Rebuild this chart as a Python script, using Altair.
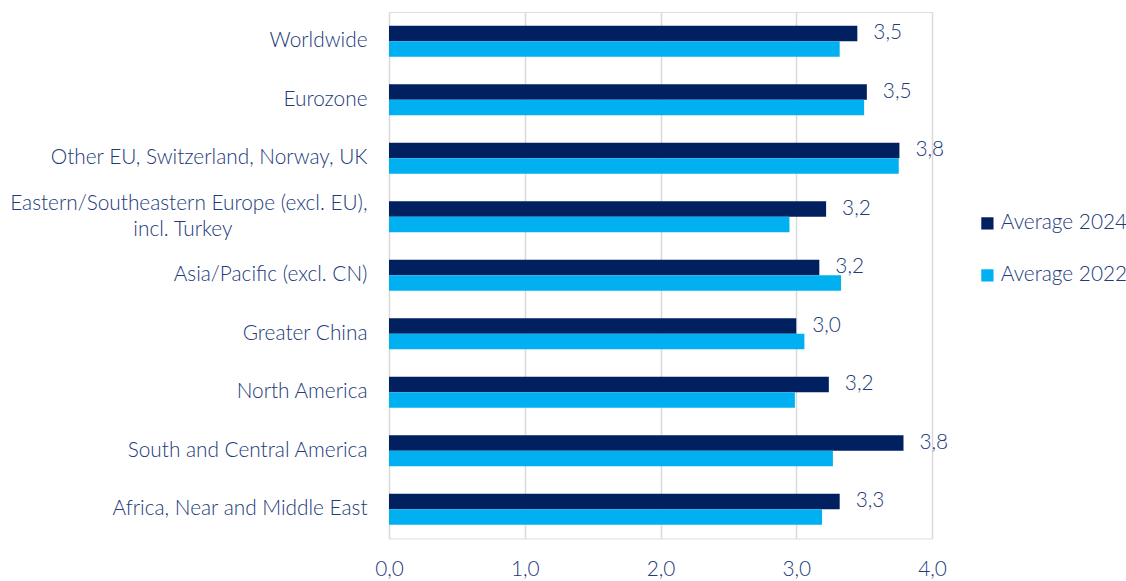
import altair as alt
import pandas as pd

categories = [
    "Worldwide",
    "Eurozone",
    "Other EU, Switzerland, Norway, UK",
    "Eastern/Southeastern Europe (excl. EU), incl. Turkey",
    "Asia/Pacific (excl. CN)",
    "Greater China",
    "North America",
    "South and Central America",
    "Africa, Near and Middle East",
]
avg_2024 = [3.45, 3.52, 3.76, 3.22, 3.17, 3.00, 3.24, 3.79, 3.32]
avg_2022 = [3.32, 3.50, 3.755, 2.95, 3.33, 3.06, 2.99, 3.27, 3.19]
series = ["Average 2024", "Average 2022"]
x_ticks = [0, 1, 2, 3, 4]

rows = []
for c, a, b in zip(categories, avg_2024, avg_2022):
    rows.append({"region": c, "series": series[0], "value": a})
    rows.append({"region": c, "series": series[1], "value": b})
df = pd.DataFrame(rows)

NAVY = "#002060"
LIGHT = "#00B0F0"
TEXT = "#22397A"
FONT = "Lato"
FS = 20.8
FW = 300

LONG = "Eastern/Southeastern Europe (excl. EU), incl. Turkey"
pad = "\u2002" * 13 + "\u200b"
label_expr = (
    "datum.value == '" + LONG + "' ? "
    "['Eastern/Southeastern Europe (excl. EU),', 'incl. Turkey" + pad + "'] : datum.value"
)

y_enc = alt.Y(
    "region:N",
    sort=categories,
    title=None,
    scale=alt.Scale(paddingInner=0.47, paddingOuter=0.235),
    axis=alt.Axis(
        labelExpr=label_expr,
        labelFont=FONT,
        labelFontSize=FS,
        labelFontWeight=FW,
        labelColor=TEXT,
        labelPadding=22,
        labelLineHeight=26,
        labelLimit=500,
        labelOffset={"condition": {"test": "datum.value == '" + LONG + "'", "value": -13}, "value": 0},
        ticks=False,
        domain=False,
        grid=False,
    ),
)
yoff = alt.YOffset("series:N", sort=series)

x_enc = alt.X(
    "value:Q",
    title=None,
    scale=alt.Scale(domain=[0, 4], nice=False),
    axis=alt.Axis(
        values=x_ticks,
        labelExpr="replace(format(datum.value, '.1f'), '.', ',')",
        labelFont=FONT,
        labelFontSize=FS,
        labelFontWeight=FW,
        labelColor=TEXT,
        labelPadding=21,
        labelFlush=False,
        ticks=False,
        domain=False,
        grid=True,
        gridColor="#D9D9D9",
        gridWidth=1.5,
    ),
)

bars = alt.Chart(df).mark_bar().encode(
    y=y_enc,
    yOffset=yoff,
    x=x_enc,
    color=alt.Color(
        "series:N",
        sort=series,
        scale=alt.Scale(domain=series, range=[NAVY, LIGHT]),
        legend=alt.Legend(
            title=None,
            orient="none",
            legendX=588,
            legendY=201,
            symbolType="square",
            symbolSize=150,
            symbolStrokeWidth=0,
            labelFont=FONT,
            labelFontSize=FS,
            labelFontWeight=FW,
            labelColor=TEXT,
            labelOffset=3,
            rowPadding=30,
        ),
    ),
)

labels = (
    alt.Chart(df)
    .transform_filter(alt.datum.series == series[0])
    .transform_calculate(lbl="replace(format(datum.value, '.1f'), '.', ',')")
    .mark_text(align="left", baseline="middle", dx=16, font=FONT, fontSize=FS,
               fontWeight=FW, color=TEXT)
    .encode(y=alt.Y("region:N", sort=categories), yOffset=yoff, x="value:Q", text="lbl:N")
)

chart = (
    alt.layer(bars, labels)
    .properties(
        width=543,
        height=526.5,
        autosize=alt.AutoSizeParams(type="none"),
        padding={"left": 389, "top": 12, "right": 194, "bottom": 42},
    )
    .configure_view(stroke=None)
    .configure(background="white")
)

chart.save("out.html", embed_options={"renderer": "svg", "actions": False})
